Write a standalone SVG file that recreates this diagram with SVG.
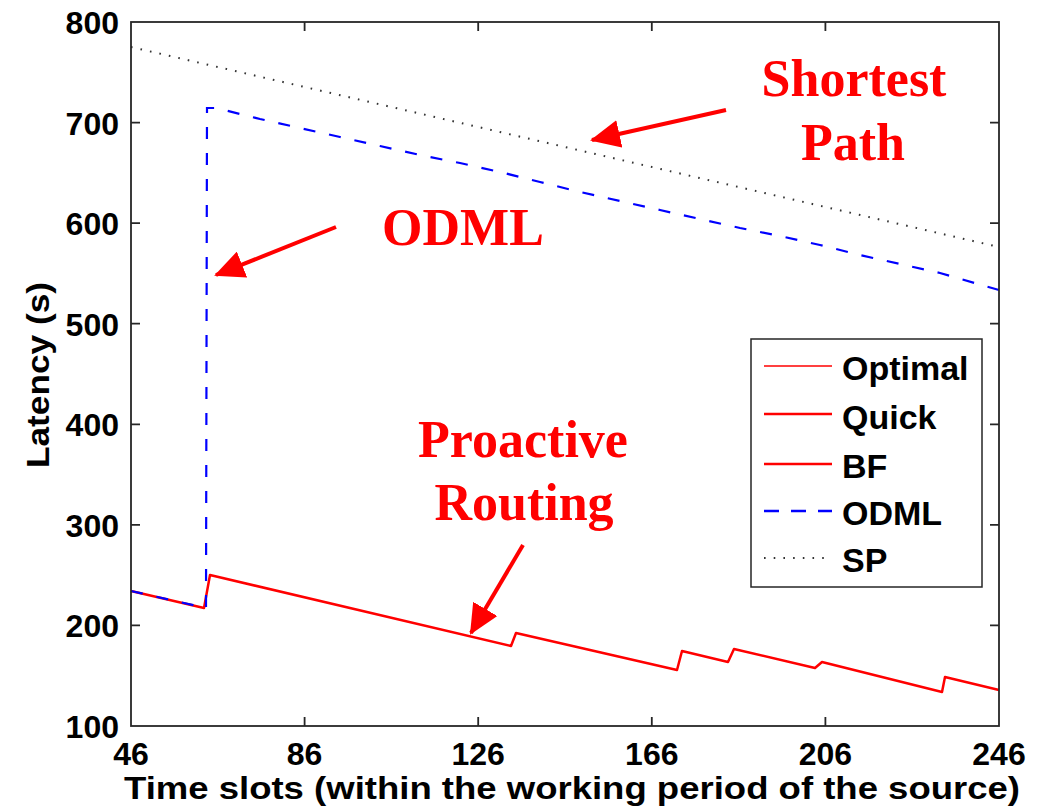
<svg xmlns="http://www.w3.org/2000/svg" width="1046" height="811" viewBox="0 0 1046 811">
  <style>
    .axis { fill: none; stroke: #262626; stroke-width: 1.8; }
    .tick { stroke: #262626; stroke-width: 1.8; }
    .num { font-family: "Liberation Sans", Arial, sans-serif; font-weight: bold; font-size: 32px; fill: #000; }
    .ylab { text-anchor: end; }
    .xlab { text-anchor: middle; }
    .title { font-family: "Liberation Sans", Arial, sans-serif; font-weight: bold; font-size: 31px; fill: #000; }
    .leg { font-family: "Liberation Sans", Arial, sans-serif; font-weight: bold; font-size: 34px; fill: #000; }
    .note { font-family: "Liberation Serif", "Times New Roman", serif; font-weight: bold; font-size: 52px; fill: #ff0000; text-anchor: middle; }
    .red { fill: none; stroke: #ff0000; stroke-width: 2.5; stroke-linejoin: round; }
    .blue { fill: none; stroke: #0000ff; stroke-width: 2.2; stroke-dasharray: 12 14; }
    .dot { fill: none; stroke: #333; stroke-width: 2; stroke-dasharray: 1.6 8.1; }
    .arrow { fill: none; stroke: #ff0000; stroke-width: 4; marker-end: url(#head); }
  </style>
  <defs>
    <marker id="head" markerUnits="userSpaceOnUse" viewBox="0 0 30 28" refX="28" refY="14" markerWidth="30" markerHeight="28" orient="auto">
      <path d="M0,0 L30,14 L0,28 z" fill="#ff0000"/>
    </marker>
  </defs>
  <rect width="1046" height="811" fill="#fff"/>

  <!-- data series -->
  <g id="series">
    <polyline id="sp" class="dot" points="131,47 999,247"/>
    <polyline id="proactive" class="red" points="131,591 204,608 210,575 511,646 516,633 677,670 682,651 728,662 734,649 815,668 822,662 942,692 945,677 999,690"/>
    <polyline id="odml" class="blue" points="131,591 206,608 207,108 216,108 260,119 300,128 340,137 380,146 420,155 460,163 500,172 540,182 580,192 620,201 660,210 700,219 740,228 780,236 820,245 860,255 900,264 940,273 999,290"/>
  </g>

  <!-- axes box with ticks -->
  <g id="axes">
    <rect class="axis" x="131" y="22" width="868" height="704"/>
    <path class="tick" d="M131,122.6h9M131,223.1h9M131,323.7h9M131,424.3h9M131,524.9h9M131,625.4h9
                          M999,122.6h-9M999,223.1h-9M999,323.7h-9M999,424.3h-9M999,524.9h-9M999,625.4h-9
                          M304.6,726v-9M478.2,726v-9M651.8,726v-9M825.4,726v-9
                          M304.6,22v9M478.2,22v9M651.8,22v9M825.4,22v9"/>
    <g class="num ylab">
      <text x="119" y="34">800</text>
      <text x="119" y="134.6">700</text>
      <text x="119" y="235.1">600</text>
      <text x="119" y="335.7">500</text>
      <text x="119" y="436.3">400</text>
      <text x="119" y="536.9">300</text>
      <text x="119" y="637.4">200</text>
      <text x="119" y="738">100</text>
    </g>
    <g class="num xlab">
      <text x="131" y="765">46</text>
      <text x="304.6" y="765">86</text>
      <text x="478.2" y="765">126</text>
      <text x="651.8" y="765">166</text>
      <text x="825.4" y="765">206</text>
      <text x="999" y="765">246</text>
    </g>
    <text class="title" x="124" y="799" textLength="896" lengthAdjust="spacingAndGlyphs">Time slots (within the working period of the source)</text>
    <text class="title" transform="translate(49,468) rotate(-90)" x="0" y="0" textLength="186" lengthAdjust="spacingAndGlyphs">Latency (s)</text>
  </g>

  <!-- legend -->
  <g id="legend">
    <rect x="751" y="339" width="231" height="248" fill="#fff" stroke="#262626" stroke-width="1.5"/>
    <line x1="764" y1="366" x2="832" y2="366" stroke="#ff0000" stroke-width="1.6"/>
    <line x1="764" y1="414" x2="832" y2="414" stroke="#ff0000" stroke-width="2.5"/>
    <line x1="764" y1="464" x2="832" y2="464" stroke="#ff0000" stroke-width="2.5"/>
    <line x1="764" y1="511" x2="832" y2="511" stroke="#0000ff" stroke-width="2.5" stroke-dasharray="15 12"/>
    <line x1="764" y1="558" x2="830" y2="558" class="dot"/>
    <text class="leg" x="842" y="380">Optimal</text>
    <text class="leg" x="842" y="429">Quick</text>
    <text class="leg" x="842" y="478">BF</text>
    <text class="leg" x="842" y="525">ODML</text>
    <text class="leg" x="842" y="572">SP</text>
  </g>

  <!-- annotations -->
  <g id="annotations">
    <g id="label-shortest">
      <text class="note" x="854" y="96">Shortest</text>
      <text class="note" x="853" y="160">Path</text>
      <line class="arrow" x1="726" y1="110" x2="592" y2="140"/>
    </g>
    <g id="label-odml">
      <text class="note" x="463" y="245">ODML</text>
      <line class="arrow" x1="336" y1="227" x2="216" y2="275"/>
    </g>
    <g id="label-proactive">
      <text class="note" x="523" y="457">Proactive</text>
      <text class="note" x="524" y="520">Routing</text>
      <line class="arrow" x1="523" y1="545" x2="471" y2="633"/>
    </g>
  </g>
</svg>
